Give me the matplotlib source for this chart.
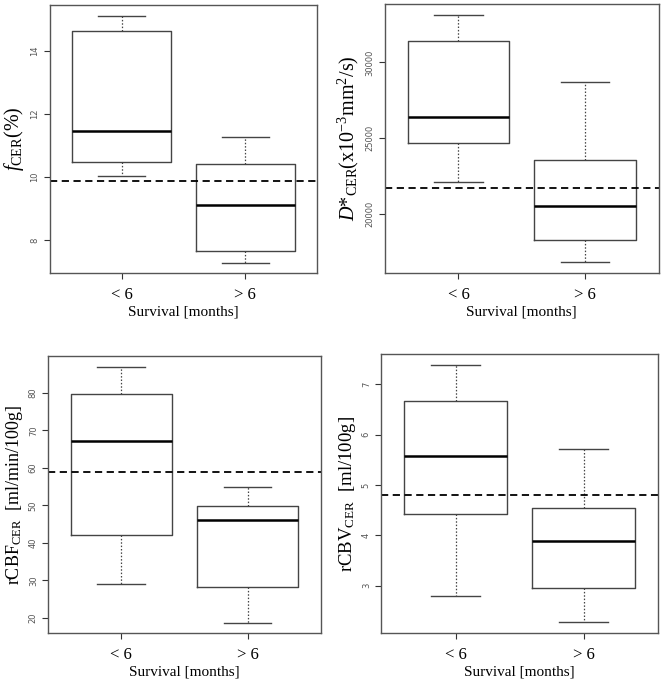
import matplotlib
matplotlib.use("Agg")
import matplotlib.pyplot as plt

plt.rcParams["font.family"] = ["Liberation Serif", "DejaVu Serif"]
plt.rcParams["mathtext.fontset"] = "custom"
plt.rcParams["mathtext.rm"] = "Liberation Serif"
plt.rcParams["mathtext.it"] = "Liberation Serif:italic"

groups = ["< 6", "> 6"]
xlabel = "Survival [months]"

# five-number summaries per group: lower whisker, Q1, median, Q3, upper whisker
f_cer = [[10.04, 10.46, 11.44, 14.63, 15.11], [7.29, 7.66, 9.11, 10.40, 11.28]]
d_cer = [[22075, 24702, 26424, 31391, 33152], [16795, 18252, 20503, 23577, 28715]]
rcbf_cer = [[29.0, 42.0, 67.1, 79.8, 86.9], [18.6, 28.3, 46.0, 49.7, 54.8]]
rcbv_cer = [[2.79, 4.43, 5.57, 6.66, 7.38], [2.27, 2.95, 3.88, 4.55, 5.71]]

cutoffs = [9.86, 21722, 59.0, 4.79]
ylims = [(6.95, 15.45), (16093, 33861), (15.84, 89.8), (2.05, 7.6)]
yticks = [[8, 10, 12, 14], [20000, 25000, 30000], [20, 30, 40, 50, 60, 70, 80], [3, 4, 5, 6, 7]]
ylabels = [r"$\mathit{f}_{\mathrm{CER}}$(%)",
           r"$\mathit{D}$*$_{\mathrm{CER}}$(x10$^{\mathrm{-3}}$mm$^{\mathrm{2}}$/s)",
           r"rCBF$_{\mathrm{CER}}$  [ml/min/100g]",
           r"rCBV$_{\mathrm{CER}}$  [ml/100g]"]
label_sizes = [14.5, 14.5, 13, 13.5]

# axes rectangles in figure fractions
rects = [[0.075, 0.601, 0.401, 0.392],
         [0.578, 0.602, 0.411, 0.392],
         [0.0725, 0.0755, 0.409, 0.4045],
         [0.5725, 0.0755, 0.4155, 0.4075]]

box_c = "#444444"
fig = plt.figure(figsize=(6.66, 6.85), dpi=100)

for data, cut, yl, yt, lab, fs, r in zip([f_cer, d_cer, rcbf_cer, rcbv_cer], cutoffs, ylims,
                                         yticks, ylabels, label_sizes, rects):
    ax = fig.add_axes(r)
    stats = []
    for g, v in zip(groups, data):
        stats.append(dict(label=g, whislo=v[0], q1=v[1], med=v[2], q3=v[3], whishi=v[4], fliers=[]))
    ax.bxp(stats, positions=[1, 2], widths=0.8, showfliers=False,
           boxprops=dict(color=box_c, linewidth=1.0),
           whiskerprops=dict(color=box_c, linewidth=0.9, linestyle=(0, (1.2, 1.5))),
           capprops=dict(color=box_c, linewidth=1.0),
           medianprops=dict(color="black", linewidth=1.8),
           capwidths=0.38)
    ax.axhline(cut, color="black", linewidth=1.3, linestyle=(0, (4, 2.5)))
    ax.set_xlim(0.42, 2.58)
    ax.set_ylim(*yl)
    ax.set_yticks(yt)
    ax.set_yticklabels([str(t) for t in yt], rotation=90, va="center",
                       fontsize=6, color="#555555", family="DejaVu Sans")
    ax.set_xticks([1, 2])
    ax.set_xticklabels(groups, fontsize=12)
    ax.tick_params(axis="both", direction="out", length=4, width=0.8, color="#333333")
    ax.tick_params(axis="x", pad=6)
    for s in ax.spines.values():
        s.set_color("#555555")
        s.set_linewidth(1.0)
    ax.set_xlabel(xlabel, fontsize=11, labelpad=2)
    ax.set_ylabel(lab, fontsize=fs, labelpad=3)

fig.savefig("out.png", dpi=100)
